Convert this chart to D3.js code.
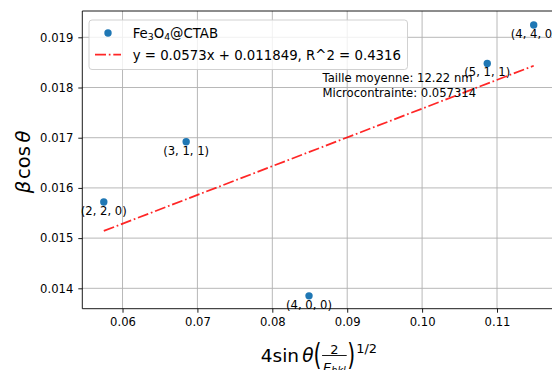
<!DOCTYPE html>
<html>
<head>
<meta charset="utf-8">
<script src="https://cdn.jsdelivr.net/npm/d3@7"></script>
<style>
  html, body { margin: 0; padding: 0; background: #fff; }
  svg { display: block; font-family: "DejaVu Sans", sans-serif; }
</style>
</head>
<body>
<svg id="chart" width="552" height="370"></svg>
<script>
// Williamson–Hall points for each reflection
const hklLabels = ["(2, 2, 0)", "(3, 1, 1)", "(4, 0, 0)", "(5, 1, 1)", "(4, 4, 0)"];
const xValues = [0.0575, 0.0685, 0.0849, 0.1087, 0.1149];
const yValues = [0.01572, 0.01692, 0.01385, 0.01848, 0.019245];

// Linear fit shown in the legend
const fitSlope = 0.0573;
const fitIntercept = 0.011849;
const fitR2 = 0.4316;

// Derived results
const infoLines = ["Taille moyenne: 12.22 nm", "Microcontrainte: 0.057314"];

// Axis ticks
const xTicks = [0.06, 0.07, 0.08, 0.09, 0.10, 0.11];
const xTickLabels = ["0.06", "0.07", "0.08", "0.09", "0.10", "0.11"];
const yTicks = [0.014, 0.015, 0.016, 0.017, 0.018, 0.019];
const yTickLabels = ["0.014", "0.015", "0.016", "0.017", "0.018", "0.019"];

const svg = d3.select("#chart");
const plot = { left: 82.3, top: 11, right: 555.5, bottom: 308.7 };

const x = d3.scaleLinear().domain([0.05463, 0.11781]).range([plot.left, plot.right]);
const y = d3.scaleLinear().domain([0.013594, 0.019524]).range([plot.bottom, plot.top]);

const tickFont = 11.6;

// grid
const grid = svg.append("g").attr("stroke", "#b0b0b0").attr("stroke-width", 0.9);
xTicks.forEach(t => grid.append("line")
  .attr("x1", x(t)).attr("x2", x(t)).attr("y1", plot.top).attr("y2", plot.bottom));
yTicks.forEach(t => grid.append("line")
  .attr("x1", plot.left).attr("x2", plot.right).attr("y1", y(t)).attr("y2", y(t)));

// axes
const xAxis = d3.axisBottom(x).tickValues(xTicks).tickFormat((d, i) => xTickLabels[i])
  .tickSizeInner(4).tickSizeOuter(0).tickPadding(5);
const yAxis = d3.axisLeft(y).tickValues(yTicks).tickFormat((d, i) => yTickLabels[i])
  .tickSizeInner(4).tickSizeOuter(0).tickPadding(5);

const gx = svg.append("g").attr("transform", `translate(0,${plot.bottom})`).call(xAxis);
const gy = svg.append("g").attr("transform", `translate(${plot.left},0)`).call(yAxis);
[gx, gy].forEach(g => {
  g.select(".domain").remove();
  g.selectAll("line").attr("stroke", "#000").attr("stroke-width", 0.9);
  g.selectAll("text").attr("fill", "#000")
    .style("font-family", "DejaVu Sans").style("font-size", tickFont + "px");
});

// spines
const spines = svg.append("g").attr("stroke", "#000").attr("stroke-width", 0.9).attr("fill", "none");
spines.append("line").attr("x1", plot.left).attr("x2", plot.left).attr("y1", plot.top).attr("y2", plot.bottom);
spines.append("line").attr("x1", plot.left).attr("x2", plot.right).attr("y1", plot.bottom).attr("y2", plot.bottom);
spines.append("line").attr("x1", plot.left).attr("x2", plot.right).attr("y1", plot.top).attr("y2", plot.top);
spines.append("line").attr("x1", plot.right).attr("x2", plot.right).attr("y1", plot.top).attr("y2", plot.bottom);

// data points
const pts = xValues.map((v, i) => ({ x: v, y: yValues[i], label: hklLabels[i] }));
svg.append("g").selectAll("circle").data(pts).join("circle")
  .attr("cx", d => x(d.x)).attr("cy", d => y(d.y)).attr("r", 3.7)
  .attr("fill", "#1f77b4");

// fitted line over the data range
const xMin = d3.min(xValues), xMax = d3.max(xValues);
const dash = "11,2.8,1.7,2.8";
svg.append("line")
  .attr("x1", x(xMin)).attr("y1", y(fitSlope * xMin + fitIntercept))
  .attr("x2", x(xMax)).attr("y2", y(fitSlope * xMax + fitIntercept))
  .attr("stroke", "#ff0000").attr("stroke-opacity", 0.85)
  .attr("stroke-width", 1.75).attr("stroke-dasharray", dash);

// hkl annotations
svg.append("g").selectAll("text").data(pts).join("text")
  .attr("x", d => x(d.x)).attr("y", d => y(d.y) + 12.8)
  .attr("text-anchor", "middle").attr("fill", "#000")
  .style("font-size", tickFont + "px")
  .text(d => d.label);

// size / strain text
svg.append("g").selectAll("text").data(infoLines).join("text")
  .attr("x", 322.5).attr("y", (d, i) => 81.5 + i * 15)
  .attr("fill", "#000").style("font-size", tickFont + "px")
  .text(d => d);

// legend
const leg = svg.append("g");
leg.append("rect").attr("x", 89).attr("y", 20).attr("width", 318.5).attr("height", 49.5)
  .attr("rx", 3).attr("fill", "#fff").attr("fill-opacity", 0.8)
  .attr("stroke", "#cccccc").attr("stroke-width", 0.9);
const legFont = 13.3;
leg.append("circle").attr("cx", 108).attr("cy", 33).attr("r", 3.7).attr("fill", "#1f77b4");
const t1 = leg.append("text").attr("x", 132.7).attr("y", 38.3).attr("fill", "#000")
  .style("font-size", legFont + "px");
t1.append("tspan").text("Fe");
t1.append("tspan").attr("dy", 2).style("font-size", (legFont * 0.7) + "px").text("3");
t1.append("tspan").attr("dy", -2).text("O");
t1.append("tspan").attr("dy", 2).style("font-size", (legFont * 0.7) + "px").text("4");
t1.append("tspan").attr("dy", -2).text("@CTAB");
leg.append("line").attr("x1", 95).attr("x2", 121).attr("y1", 54.7).attr("y2", 54.7)
  .attr("stroke", "#ff0000").attr("stroke-opacity", 0.85)
  .attr("stroke-width", 1.75).attr("stroke-dasharray", dash);
leg.append("text").attr("x", 132.7).attr("y", 59.8).attr("fill", "#000")
  .style("font-size", legFont + "px")
  .text(`y = ${fitSlope}x + ${fitIntercept}, R^2 = ${fitR2}`);

// y axis label: β cos θ
const yl = svg.append("text")
  .attr("transform", `translate(30,162) rotate(-90)`)
  .attr("text-anchor", "middle").attr("fill", "#000")
  .style("font-size", "19.5px");
yl.append("tspan").style("font-style", "italic").text("β");
yl.append("tspan").attr("dx", 2).text("cos");
yl.append("tspan").attr("dx", 3.5).style("font-style", "italic").text("θ");

// x axis label: 4 sin θ (2 / E_hkl)^(1/2)
const XF = 18.5;
const xl = svg.append("g");
let cx = 0;
function piece(str, o) {
  const t = xl.append("text").attr("x", cx).attr("y", o.y || 0).attr("fill", "#000")
    .style("font-size", (o.size || XF) + "px")
    .style("font-style", o.italic ? "italic" : "normal")
    .text(str);
  if (o.sy) t.attr("transform", `translate(0,${o.y || 0}) scale(1,${o.sy}) translate(0,${-(o.y || 0)})`);
  const w = t.node().getComputedTextLength();
  cx += w + (o.gap || 0);
  return t;
}
piece("4sin", { gap: 3.2 });
piece("θ", { italic: true, gap: 0 });
piece("(", { size: XF * 1.1, y: 3, sy: 1.45, gap: 0.5 });
// fraction
const fracX = cx;
const small = XF * 0.7;
const num = xl.append("text").attr("y", -8).attr("fill", "#000")
  .style("font-size", small + "px").attr("text-anchor", "middle").text("2");
const den = xl.append("text").attr("y", 10).attr("fill", "#000")
  .attr("text-anchor", "middle").style("font-size", small + "px").style("font-style", "italic");
den.append("tspan").text("E");
den.append("tspan").attr("dy", 2).style("font-size", (small * 0.75) + "px").text("hkl");
const fw = Math.max(num.node().getComputedTextLength(), den.node().getComputedTextLength()) + 2;
num.attr("x", fracX + fw / 2);
den.attr("x", fracX + fw / 2);
xl.append("line").attr("x1", fracX).attr("x2", fracX + fw).attr("y1", -6).attr("y2", -6)
  .attr("stroke", "#000").attr("stroke-width", 0.9);
cx = fracX + fw + 0.5;
piece(")", { size: XF * 1.1, y: 3, sy: 1.45, gap: 1 });
piece("1/2", { size: small, y: -8.5 });
const totalW = cx;
xl.attr("transform", `translate(${(plot.left + plot.right) / 2 - totalW / 2},361.5)`);
</script>
</body>
</html>
